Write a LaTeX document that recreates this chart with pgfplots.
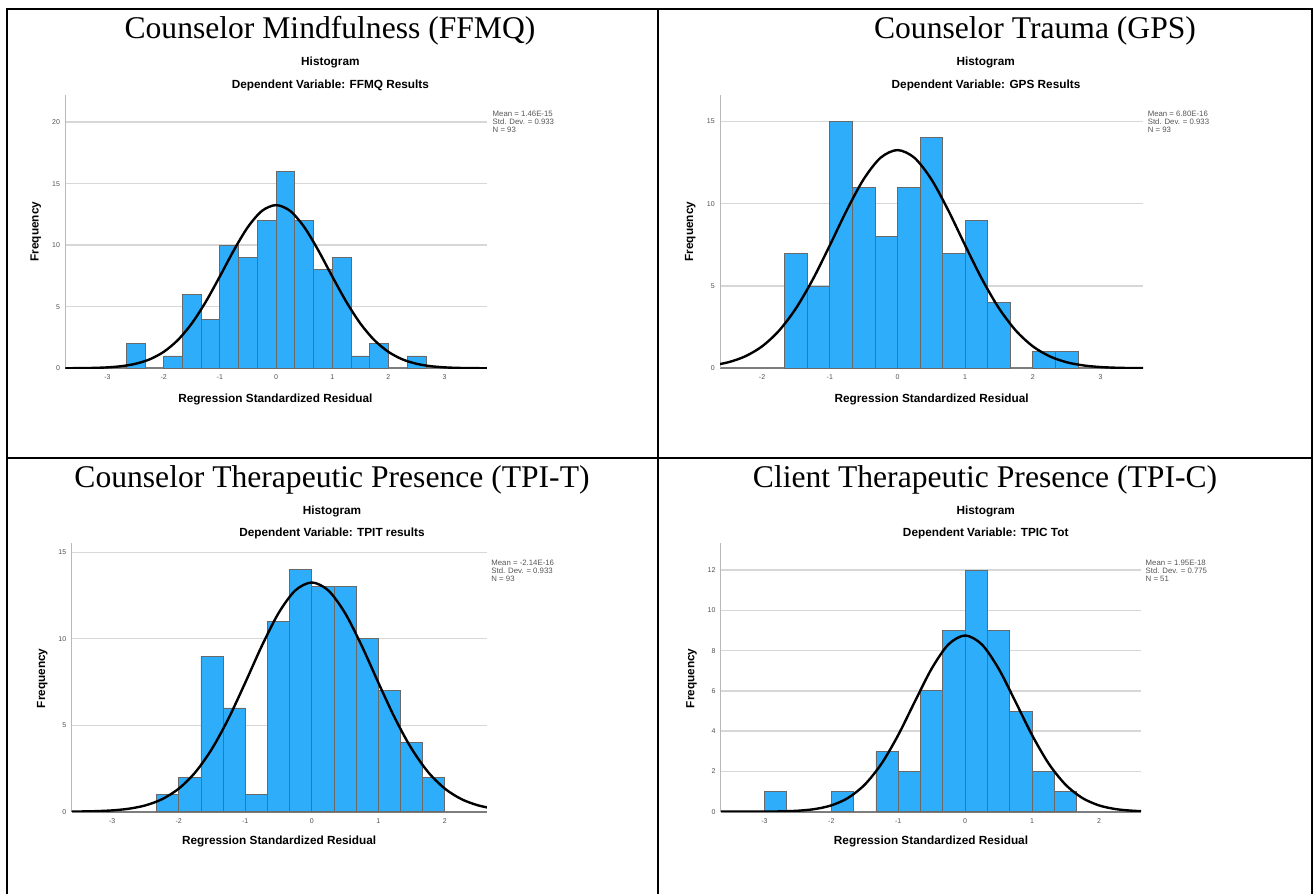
\documentclass[border=0pt]{standalone}
\usepackage{pgfplots}
\pgfplotsset{compat=1.18}
\usepackage{fontspec}
\setmainfont{Liberation Serif}
\newfontfamily\arial{Liberation Sans}
\definecolor{barblue}{RGB}{46,173,250}
\definecolor{bargray}{RGB}{105,105,105}
\definecolor{gridgray}{RGB}{215,215,215}
\definecolor{axisgray}{RGB}{125,125,125}
\definecolor{ylinegray}{RGB}{185,185,185}
\definecolor{tickgray}{RGB}{80,80,80}
\definecolor{leggray}{RGB}{85,85,85}
\newcommand\tickfont{\arial\fontsize{3.5pt}{4pt}\selectfont}
\newcommand\spssfont{\arial\bfseries\fontsize{5.9pt}{7pt}\selectfont}
\newcommand\legfont{\arial\fontsize{3.9pt}{4pt}\selectfont}
\newcommand\titlefont{\fontsize{15.8pt}{18pt}\selectfont}
\pgfplotsset{spss/.style={
  scale only axis, anchor=south west,
  axis x line*=bottom, axis y line*=left,
  x axis line style={draw=axisgray, line width=1pt},
  y axis line style={draw=ylinegray, line width=0.5pt},
  ymajorgrids, grid style={draw=gridgray, line width=0.7pt},
  major tick length=0pt, tick style={draw=none},
  ymin=0,
  xticklabel style={font=\tickfont, text=tickgray, anchor=center, inner sep=0pt, yshift=-4.5pt},
  yticklabel style={font=\tickfont, text=tickgray, anchor=east, inner sep=0pt, xshift=-2.5pt},
}}
\pgfplotsset{hbar/.style={ybar, bar width=0.33333, fill=barblue, draw=bargray, line width=0.4pt},
  ncurve/.style={black, line width=1.2pt, smooth}}
\begin{document}
\begin{tikzpicture}
\useasboundingbox (0,0) rectangle (658pt,447pt);
% table borders
\draw[line width=1pt] (3.5pt,0) -- (3.5pt,442.5pt) -- (655.75pt,442.5pt) -- (655.75pt,0);
\draw[line width=1pt] (329pt,0) -- (329pt,442.5pt);
\draw[line width=1pt] (3.5pt,218.15pt) -- (655.75pt,218.15pt);
% cell titles
\node[anchor=base, inner sep=0pt, font=\titlefont] at (165pt,427.85pt) {Counselor Mindfulness (FFMQ)};
\node[anchor=base, inner sep=0pt, font=\titlefont] at (517.5pt,427.85pt) {Counselor Trauma (GPS)};
\node[anchor=base, inner sep=0pt, font=\titlefont] at (166pt,203.25pt) {Counselor Therapeutic Presence (TPI-T)};
\node[anchor=base, inner sep=0pt, font=\titlefont] at (492.5pt,203.25pt) {Client Therapeutic Presence (TPI-C)};

% ---------- Panel 1 ----------
\begin{axis}[spss, at={(32.65pt,262.85pt)}, width=210.75pt, height=136.65pt,
  xmin=-3.75, xmax=3.75, ymax=22.2,
  xtick={-3,-2,-1,0,1,2,3}, xticklabels={-3,-2,-1,0,1,2,3},
  ytick={0,5,10,15,20}, yticklabels={0,5,10,15,20}]
\addplot[hbar] coordinates {(-2.5,2) (-1.8333,1) (-1.5,6) (-1.1667,4) (-0.8333,10) (-0.5,9) (-0.1667,12) (0.1667,16) (0.5,12) (0.8333,8) (1.1667,9) (1.5,1) (1.8333,2) (2.5,1)};
\addplot[ncurve] coordinates {(-3.75,0.0041) (-3.5,0.0117) (-3.25,0.0307) (-3,0.0754) (-2.75,0.1721) (-2.5,0.3659) (-2.25,0.7238) (-2,1.3322) (-1.75,2.2825) (-1.5,3.640) (-1.25,5.403) (-1,7.463) (-0.75,9.596) (-0.5,11.482) (-0.25,12.788) (0,13.255) (0.25,12.788) (0.5,11.482) (0.75,9.596) (1,7.463) (1.25,5.403) (1.5,3.640) (1.75,2.2825) (2,1.3322) (2.25,0.7238) (2.5,0.3659) (2.75,0.1721) (3,0.0754) (3.25,0.0307) (3.5,0.0117) (3.75,0.0041)};
\end{axis}
\node[font=\spssfont] at (165.2pt,415.65pt) {Histogram};
\node[font=\spssfont] at (165.2pt,404.5pt) {Dependent Variable: FFMQ Results};
\node[font=\spssfont] at (137.7pt,247.5pt) {Regression Standardized Residual};
\node[font=\spssfont, rotate=90] at (17.9pt,331.15pt) {Frequency};
\node[anchor=north west, align=left, inner sep=0pt, font=\legfont, text=leggray] at (246.15pt,391.5pt) {Mean = 1.46E-15\\Std. Dev. = 0.933\\N = 93};

% ---------- Panel 2 ----------
\begin{axis}[spss, at={(360.05pt,262.85pt)}, width=211.55pt, height=136.65pt,
  xmin=-2.62, xmax=3.63, ymax=16.6,
  xtick={-2,-1,0,1,2,3}, xticklabels={-2,-1,0,1,2,3},
  ytick={0,5,10,15}, yticklabels={0,5,10,15}]
\addplot[hbar] coordinates {(-1.5,7) (-1.1667,5) (-0.8333,15) (-0.5,11) (-0.1667,8) (0.1667,11) (0.5,14) (0.8333,7) (1.1667,9) (1.5,4) (2.1667,1) (2.5,1)};
\addplot[ncurve] coordinates {(-3.75,0.0041) (-3.5,0.0117) (-3.25,0.0307) (-3,0.0754) (-2.75,0.1721) (-2.5,0.3659) (-2.25,0.7238) (-2,1.3322) (-1.75,2.2825) (-1.5,3.640) (-1.25,5.403) (-1,7.463) (-0.75,9.596) (-0.5,11.482) (-0.25,12.788) (0,13.255) (0.25,12.788) (0.5,11.482) (0.75,9.596) (1,7.463) (1.25,5.403) (1.5,3.640) (1.75,2.2825) (2,1.3322) (2.25,0.7238) (2.5,0.3659) (2.75,0.1721) (3,0.0754) (3.25,0.0307) (3.5,0.0117) (3.75,0.0041)};
\end{axis}
\node[font=\spssfont] at (492.85pt,415.65pt) {Histogram};
\node[font=\spssfont] at (493pt,404.5pt) {Dependent Variable: GPS Results};
\node[font=\spssfont] at (465.8pt,247.5pt) {Regression Standardized Residual};
\node[font=\spssfont, rotate=90] at (345.15pt,331.15pt) {Frequency};
\node[anchor=north west, align=left, inner sep=0pt, font=\legfont, text=leggray] at (573.7pt,391.5pt) {Mean = 6.80E-16\\Std. Dev. = 0.933\\N = 93};

% ---------- Panel 3 ----------
\begin{axis}[spss, at={(35.8pt,41.15pt)}, width=207.6pt, height=134.2pt,
  xmin=-3.61, xmax=2.63, ymax=15.52,
  xtick={-3,-2,-1,0,1,2}, xticklabels={-3,-2,-1,0,1,2},
  ytick={0,5,10,15}, yticklabels={0,5,10,15}]
\addplot[hbar] coordinates {(-2.1667,1) (-1.8333,2) (-1.5,9) (-1.1667,6) (-0.8333,1) (-0.5,11) (-0.1667,14) (0.1667,13) (0.5,13) (0.8333,10) (1.1667,7) (1.5,4) (1.8333,2)};
\addplot[ncurve] coordinates {(-3.75,0.0041) (-3.5,0.0117) (-3.25,0.0307) (-3,0.0754) (-2.75,0.1721) (-2.5,0.3659) (-2.25,0.7238) (-2,1.3322) (-1.75,2.2825) (-1.5,3.640) (-1.25,5.403) (-1,7.463) (-0.75,9.596) (-0.5,11.482) (-0.25,12.788) (0,13.255) (0.25,12.788) (0.5,11.482) (0.75,9.596) (1,7.463) (1.25,5.403) (1.5,3.640) (1.75,2.2825) (2,1.3322) (2.25,0.7238) (2.5,0.3659) (2.75,0.1721) (3,0.0754)};
\end{axis}
\node[font=\spssfont] at (166pt,191.15pt) {Histogram};
\node[font=\spssfont] at (166pt,180.35pt) {Dependent Variable: TPIT results};
\node[font=\spssfont] at (139.6pt,26.15pt) {Regression Standardized Residual};
\node[font=\spssfont, rotate=90] at (21.1pt,107.85pt) {Frequency};
\node[anchor=north west, align=left, inner sep=0pt, font=\legfont, text=leggray] at (245.5pt,167.4pt) {Mean = -2.14E-16\\Std. Dev. = 0.933\\N = 93};

% ---------- Panel 4 ----------
\begin{axis}[spss, at={(360.45pt,41.15pt)}, width=210.1pt, height=134.2pt,
  xmin=-3.65, xmax=2.63, ymax=13.33,
  xtick={-3,-2,-1,0,1,2}, xticklabels={-3,-2,-1,0,1,2},
  ytick={0,2,4,6,8,10,12}, yticklabels={0,2,4,6,8,10,12}]
\addplot[hbar] coordinates {(-2.8333,1) (-1.8333,1) (-1.1667,3) (-0.8333,2) (-0.5,6) (-0.1667,9) (0.1667,12) (0.5,9) (0.8333,5) (1.1667,2) (1.5,1)};
\addplot[ncurve] coordinates {(-3.75,0.0001) (-3.5,0.0003) (-3.25,0.0013) (-3,0.0049) (-2.75,0.0161) (-2.5,0.0481) (-2.25,0.1294) (-2,0.3133) (-1.75,0.6837) (-1.5,1.3446) (-1.25,2.383) (-1,3.807) (-0.75,5.479) (-0.5,7.107) (-0.25,8.307) (0,8.751) (0.25,8.307) (0.5,7.107) (0.75,5.479) (1,3.807) (1.25,2.383) (1.5,1.3446) (1.75,0.6837) (2,0.3133) (2.25,0.1294) (2.5,0.0481) (2.75,0.0161) (3,0.0049)};
\end{axis}
\node[font=\spssfont] at (492.85pt,191.15pt) {Histogram};
\node[font=\spssfont] at (492.85pt,180.35pt) {Dependent Variable: TPIC Tot};
\node[font=\spssfont] at (465.5pt,26.15pt) {Regression Standardized Residual};
\node[font=\spssfont, rotate=90] at (345.75pt,107.85pt) {Frequency};
\node[anchor=north west, align=left, inner sep=0pt, font=\legfont, text=leggray] at (572.65pt,167.4pt) {Mean = 1.95E-18\\Std. Dev. = 0.775\\N = 51};
\end{tikzpicture}
\end{document}
